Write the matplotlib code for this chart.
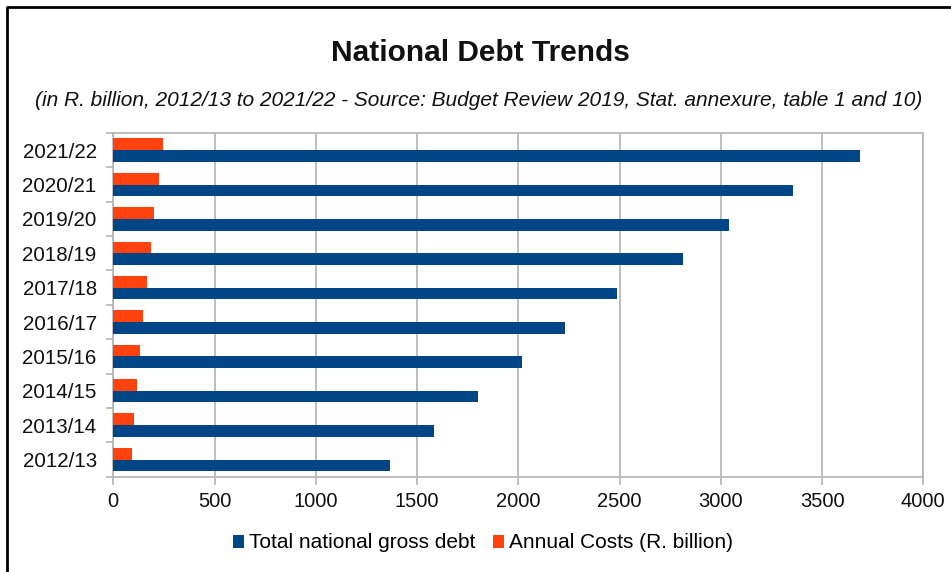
import matplotlib
matplotlib.use("Agg")
import matplotlib.pyplot as plt
from matplotlib.lines import Line2D
from matplotlib.patches import Patch
import numpy as np

categories = ["2012/13", "2013/14", "2014/15", "2015/16", "2016/17",
              "2017/18", "2018/19", "2019/20", "2020/21", "2021/22"]
total_debt = [1367, 1585, 1802, 2019, 2231, 2489, 2815, 3042, 3358, 3686]
annual_costs = [91, 103, 117, 132, 148, 165, 185, 203, 226, 247]
x_ticks = [0, 500, 1000, 1500, 2000, 2500, 3000, 3500, 4000]

title = "National Debt Trends"
subtitle = "(in R. billion, 2012/13 to 2021/22 - Source: Budget Review 2019, Stat. annexure, table 1 and 10)"
series_names = ["Total national gross debt", "Annual Costs (R. billion)"]

BLUE = "#004586"
ORANGE = "#ff420e"
GRID = "#b3b3b3"
FONT = ["Liberation Sans", "DejaVu Sans"]
plt.rcParams["font.family"] = FONT

W, H = 951, 572
fig = plt.figure(figsize=(W / 100, H / 100), dpi=100)

def fx(px):
    return px / W

def fy(py):
    return 1 - py / H

left, right, top, bottom = 113.3, 923.3, 133.0, 476.7
ax = fig.add_axes([fx(left), fy(bottom), fx(right - left), (bottom - top) / H])

y = np.arange(len(categories))
bh = 0.34
ax.barh(y - bh / 2, total_debt, height=bh, color=BLUE, zorder=3, linewidth=0)
ax.barh(y + bh / 2, annual_costs, height=bh, color=ORANGE, zorder=3, linewidth=0)

ax.set_xlim(0, 4000)
ax.set_ylim(-0.5, len(categories) - 0.5)
ax.set_xticks(x_ticks)
ax.set_xticklabels([str(v) for v in x_ticks])
ax.set_yticks(y)
ax.set_yticklabels(categories)
ax.set_yticks(np.arange(-0.5, len(categories), 1.0), minor=True)
ax.tick_params(axis="y", which="major", length=0, pad=12, labelsize=14.8, labelcolor="#111111")
ax.tick_params(axis="y", which="minor", length=5, width=1.2, color=GRID, direction="out")
ax.tick_params(axis="x", which="major", length=6, width=1.2, color=GRID, direction="out",
               pad=5, labelsize=14.5, labelcolor="#111111")

ax.grid(axis="x", color=GRID, linewidth=1.2, zorder=0)
for s in ax.spines.values():
    s.set_color(GRID)
    s.set_linewidth(1.2)

fig.text(fx(480), fy(53), title, ha="center", va="center", fontsize=21.5, fontweight="bold",
         color="#111111")
fig.text(fx(479), fy(101), subtitle, ha="center", va="center", fontsize=15.0, style="italic",
         color="#111111")

handles = [Patch(facecolor=BLUE, edgecolor="none"), Patch(facecolor=ORANGE, edgecolor="none")]
fig.legend(handles, series_names, loc="center", bbox_to_anchor=(fx(483), fy(543)), ncol=2,
           frameon=False, fontsize=15.0, handlelength=0.55, handleheight=0.6,
           handletextpad=0.25, columnspacing=0.8, borderaxespad=0)

# outer frame (left and top edges visible)
fig.add_artist(Line2D([fx(7), fx(7), 1.0], [0.0, fy(7), fy(7)], color="black",
                      linewidth=2, transform=fig.transFigure))

fig.savefig("out.png", dpi=100, facecolor="white")
